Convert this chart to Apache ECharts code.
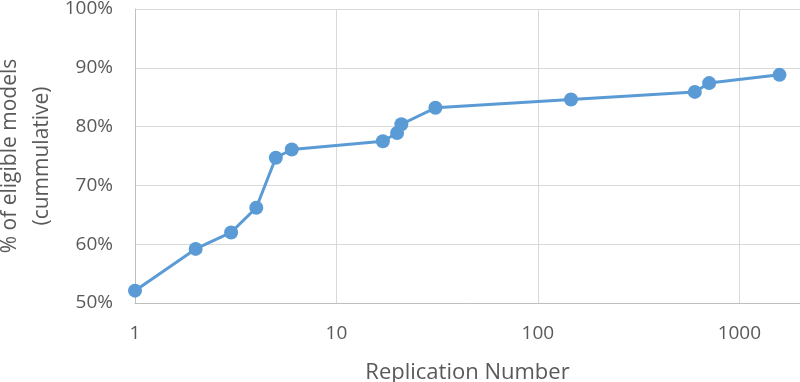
<!DOCTYPE html>
<html><head><meta charset="utf-8">
<script src="https://cdn.jsdelivr.net/npm/echarts@6/dist/echarts.min.js"></script>
<style>html,body{margin:0;padding:0;background:#fff}#c{width:800px;height:382px}</style>
</head><body><div id="c"></div>
<script>
var replication = [1, 2, 3, 4, 5, 6, 17, 20, 21, 31, 146, 601, 708, 1582];
var percentCumulative = [52.1, 59.2, 62.0, 66.2, 74.7, 76.1, 77.5, 78.9, 80.4, 83.2, 84.6, 85.9, 87.4, 88.8];
var xTitle = 'Replication Number';
var yTitle = '% of eligible models\n(cummulative)';

var chart = echarts.init(document.getElementById('c'), null, {renderer: 'canvas'});
var font = '"Open Sans", "Noto Sans", sans-serif';
chart.setOption({
  animation: false,
  grid: {left: 135, right: 0, top: 9, bottom: 79, containLabel: false, outerBoundsMode: 'none'},
  xAxis: {
    type: 'log', logBase: 10, min: 1, max: 2000,
    name: xTitle, nameLocation: 'middle', nameGap: 59, nameMoveOverlap: false,
    nameTextStyle: {color: '#595959', fontSize: 22, fontFamily: font},
    axisLine: {show: true, lineStyle: {color: '#bfbfbf', width: 1}},
    axisTick: {show: false},
    axisLabel: {color: '#595959', fontSize: 19, fontFamily: font, margin: 21,
      formatter: function (v) { var l = Math.log10(v); return Math.abs(l - Math.round(l)) < 1e-6 ? String(Math.round(v)) : ''; }},
    splitLine: {show: true, lineStyle: {color: '#d9d9d9', width: 1}}
  },
  yAxis: {
    type: 'value', min: 50, max: 100, interval: 10,
    name: yTitle, nameLocation: 'middle', nameGap: 77, nameRotate: 90, nameMoveOverlap: false,
    nameTextStyle: {color: '#595959', fontSize: 21, fontFamily: font, lineHeight: 32},
    axisLine: {show: true, lineStyle: {color: '#bfbfbf', width: 1}},
    axisTick: {show: false},
    axisLabel: {color: '#595959', fontSize: 19, fontFamily: font, margin: 22, formatter: '{value}%'},
    splitLine: {show: true, lineStyle: {color: '#d9d9d9', width: 1}}
  },
  series: [{
    type: 'line',
    data: replication.map(function (x, i) { return [x, percentCumulative[i]]; }),
    symbol: 'circle', symbolSize: 14,
    lineStyle: {color: '#5b9bd5', width: 3},
    itemStyle: {color: '#5b9bd5'},
    clip: false
  }]
});
</script></body></html>
